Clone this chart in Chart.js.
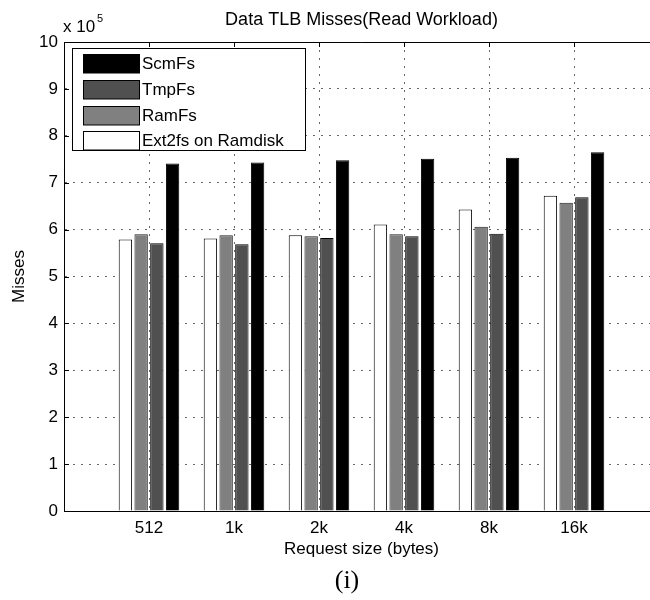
<!DOCTYPE html>
<html>
<head>
<meta charset="utf-8">
<script src="https://cdn.jsdelivr.net/npm/chart.js@4.4.1/dist/chart.umd.min.js"></script>
<style>
  html, body { margin: 0; padding: 0; background: #fff; }
  #wrap { width: 650px; height: 600px; overflow: hidden; }
</style>
</head>
<body>
<div id="wrap"><canvas id="chart" width="680" height="600"></canvas></div>
<script>
const sizes = ['512', '1k', '2k', '4k', '8k', '16k'];
const ext2fs = [579000, 581000, 588000, 611000, 643000, 672000];
const ramfs  = [590000, 588000, 586000, 590000, 606000, 657000];
const tmpfs  = [571000, 569000, 582000, 586000, 591000, 669000];
const scmfs  = [741000, 743000, 748000, 751000, 753000, 765000];
const yTicks = [0, 1, 2, 3, 4, 5, 6, 7, 8, 9, 10];

const FONT = 'Liberation Sans, Arial, sans-serif';

// frame, inward ticks, legend box and extra text
const matlabBits = {
  id: 'matlabBits',
  afterDraw(chart) {
    const ctx = chart.ctx;
    const a = chart.chartArea;
    const xs = chart.scales.x, ys = chart.scales.y;
    ctx.save();
    ctx.strokeStyle = '#000';
    ctx.lineWidth = 1;
    ctx.beginPath();
    ctx.moveTo(a.left, a.top + 0.5);
    ctx.lineTo(a.right, a.top + 0.5);
    xs.ticks.forEach(t => {
      const px = Math.round(xs.getPixelForValue(t.value)) + 0.5;
      ctx.moveTo(px, a.top);
      ctx.lineTo(px, a.top + 5);
    });
    ys.ticks.forEach(t => {
      const py = Math.round(ys.getPixelForValue(t.value)) + 0.5;
      ctx.moveTo(a.left, py);
      ctx.lineTo(a.left + 5, py);
    });
    ctx.stroke();

    // legend
    const items = chart.data.datasets.slice().reverse();
    ctx.fillStyle = '#fff';
    ctx.fillRect(72.5, 48.5, 233, 102);
    ctx.strokeRect(72.5, 48.5, 233, 102);
    ctx.font = '17px ' + FONT;
    ctx.textBaseline = 'middle';
    items.forEach((ds, i) => {
      const y = Math.round(54 + i * 25.8) + 0.5;
      ctx.fillStyle = ds.backgroundColor;
      ctx.fillRect(83.5, y, 56, 18.5);
      ctx.strokeRect(83.5, y, 56, 18.5);
      ctx.fillStyle = '#000';
      ctx.fillText(ds.label, 142, y + 10);
    });

    // x 10^5
    ctx.textBaseline = 'alphabetic';
    ctx.fillText('x 10', 63, 32);
    ctx.font = '11px ' + FONT;
    ctx.fillText('5', 97, 22);

    // sub-figure label
    ctx.font = '26px "Liberation Serif", serif';
    ctx.textAlign = 'center';
    ctx.fillText('(i)', 347, 588);
    ctx.restore();
  }
};

const ds = (label, values, color, border) => ({
  label: label,
  data: values.map((v, i) => ({ x: i + 1, y: v })),
  backgroundColor: color,
  borderColor: border,
  borderWidth: 1,
  categoryPercentage: 0.74,
  barPercentage: 0.85
});

new Chart(document.getElementById('chart'), {
  type: 'bar',
  data: {
    datasets: [
      ds('Ext2fs on Ramdisk', ext2fs, '#ffffff', '#000'),
      ds('RamFs', ramfs, '#808080', '#222'),
      ds('TmpFs', tmpfs, '#505050', '#000'),
      ds('ScmFs', scmfs, '#000000', '#000')
    ]
  },
  options: {
    responsive: false,
    animation: false,
    layout: { padding: { left: 0, right: 21, top: 0, bottom: 0 } },
    plugins: {
      legend: { display: false },
      tooltip: { enabled: false },
      title: {
        display: true,
        fullSize: false,
        text: 'Data TLB Misses(Read Workload)',
        color: '#000',
        font: { family: FONT, size: 18, weight: 'normal' },
        padding: { top: 9, bottom: 11.4 }
      }
    },
    scales: {
      x: {
        type: 'linear',
        offset: false,
        min: 0,
        max: 7,
        afterBuildTicks: s => { s.ticks = sizes.map((c, i) => ({ value: i + 1 })); },
        afterFit: s => { s.height = 89; },
        ticks: {
          color: '#000',
          font: { family: FONT, size: 17 },
          padding: 7,
          maxRotation: 0,
          callback: (v, i) => sizes[i]
        },
        grid: { color: '#666', offset: false, drawTicks: false, tickLength: 0 },
        border: { color: '#000', width: 1, dash: [2, 6] },
        title: {
          display: true,
          text: 'Request size (bytes)',
          color: '#000',
          font: { family: FONT, size: 17 },
          padding: { top: 0, bottom: 40 }
        }
      },
      y: {
        min: 0,
        max: 1000000,
        afterBuildTicks: s => { s.ticks = yTicks.map(v => ({ value: v * 100000 })); },
        afterFit: s => { s.width = 64; },
        ticks: {
          color: '#000',
          font: { family: FONT, size: 17 },
          padding: 6,
          callback: v => String(Math.round(v / 100000))
        },
        grid: { color: '#666', drawTicks: false, tickLength: 0 },
        border: { color: '#000', width: 1, dash: [2, 6] },
        title: {
          display: true,
          text: 'Misses',
          color: '#000',
          font: { family: FONT, size: 17 },
          padding: { top: 9, bottom: 0 }
        }
      }
    }
  },
  plugins: [matlabBits]
});
</script>
</body>
</html>
